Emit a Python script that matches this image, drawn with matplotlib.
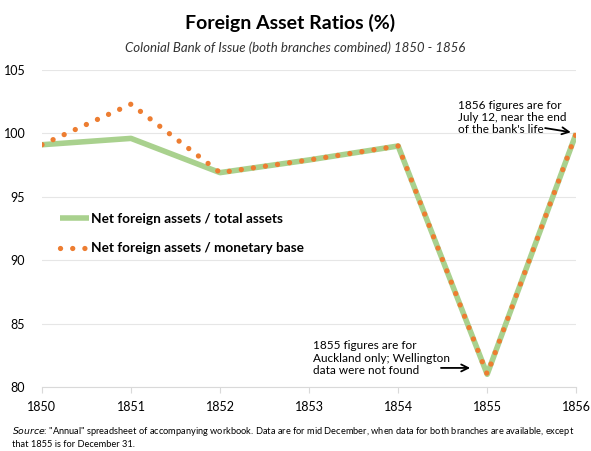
import matplotlib.pyplot as plt

plt.rcParams["font.family"] = ["Lato", "DejaVu Sans"]

# data
years = [1850, 1851, 1852, 1853, 1854, 1855, 1856]
total_assets = [99.1, 99.6, 96.9, 97.9, 99.0, 81.0, 100.0]
monetary_base = [99.1, 102.3, 96.9, 97.9, 99.0, 81.0, 100.0]
y_ticks = [80, 85, 90, 95, 100, 105]

fig = plt.figure(figsize=(5.91, 4.51), dpi=100)
ax = fig.add_axes([0.071, 0.142, 0.904, 0.703])

ax.plot(years, total_assets, color="#A9D18E", lw=4, solid_capstyle="butt",
        label="Net foreign assets / total assets")
ax.plot(years, monetary_base, color="#ED7D31", lw=3.8, linestyle=(0, (0.01, 2.3)),
        dash_capstyle="round", label="Net foreign assets / monetary base")

ax.set_xlim(1850, 1856)
ax.set_ylim(80, 105)
ax.set_yticks(y_ticks)
ax.set_xticks(years)
ax.grid(axis="y", color="#E6E6E6", lw=0.8)
ax.set_axisbelow(True)
for s in ["top", "right", "left"]:
    ax.spines[s].set_visible(False)
ax.spines["bottom"].set_color("#D9D9D9")
ax.tick_params(axis="y", length=0, labelsize=9, pad=12)
ax.tick_params(axis="x", length=4, color="#D9D9D9", labelsize=9, pad=6)

leg = ax.legend(loc="center left", bbox_to_anchor=(0.01, 0.484), frameon=False,
                prop={"weight": "bold", "size": 9.8}, handlelength=2.2,
                handletextpad=0.1, labelspacing=1.3)

# notes
ax.text(1854.67, 99.85, "1856 figures are for\nJuly 12, near the end\nof the bank's life",
        fontsize=8.5, ha="left", va="bottom", linespacing=1.15)
ax.annotate("", xy=(1855.97, 100.05), xytext=(1855.62, 100.45),
            arrowprops=dict(arrowstyle="->,head_length=0.5,head_width=0.25",
                            color="black", lw=1.3))
ax.text(1853.04, 80.85, "1855 figures are for\nAuckland only; Wellington\ndata were not found",
        fontsize=8.5, ha="left", va="bottom", linespacing=1.15)
ax.annotate("", xy=(1854.84, 81.5), xytext=(1854.45, 81.5),
            arrowprops=dict(arrowstyle="->,head_length=0.5,head_width=0.25",
                            color="black", lw=1.3))

fig.text(0.49, 0.95, "Foreign Asset Ratios (%)", ha="center", va="center",
         fontsize=14, weight="bold")
fig.text(0.5, 0.895, "Colonial Bank of Issue (both branches combined) 1850 - 1856",
         ha="center", va="center", fontsize=9.5, style="italic", color="#333333")
fig.text(0.02, 0.005, r"$\it{Source}$: " + '"Annual" spreadsheet of accompanying workbook. '
         "Data are for mid December, when data for both branches are available, except\n"
         "that 1855 is for December 31.", fontsize=6.65, ha="left", va="bottom",
         linespacing=1.3)

plt.savefig("out.png", dpi=100)
